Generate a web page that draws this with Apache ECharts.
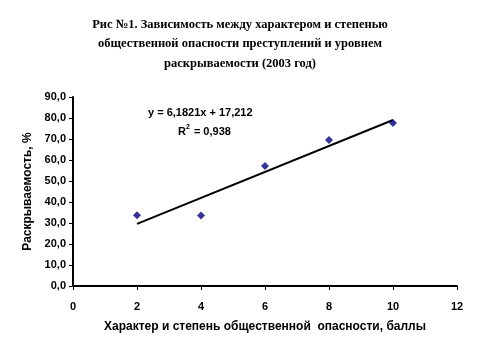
<!DOCTYPE html>
<html><head><meta charset="utf-8">
<script src="https://cdn.jsdelivr.net/npm/echarts@6/dist/echarts.min.js"></script>
<style>html,body{margin:0;padding:0;background:#fff}#c{width:480px;height:355px}</style>
</head><body><div id="c"></div>
<script>
var xValues = [2, 4, 6, 8, 10];
var yValues = [33.7, 33.6, 57.1, 69.5, 77.6];
var trendSlope = 6.1821;
var trendIntercept = 17.212;
var trendX = [2, 10];
var titleText = 'Рис №1. Зависимость между характером и степенью\nобщественной опасности преступлений и уровнем\nраскрываемости (2003 год)';

var points = xValues.map(function(x, i){ return [x, yValues[i]]; });
var trend = trendX.map(function(x){ return [x, trendSlope * x + trendIntercept]; });

var chart = echarts.init(document.getElementById('c'));
chart.setOption({
  backgroundColor: '#fff',
  animation: false,
  title: {
    text: titleText, left: 'center', top: 10,
    textStyle: {fontFamily: 'Liberation Serif', fontSize: 12.5, fontWeight: 'bold', color: '#000', lineHeight: 19.5}
  },
  grid: {left: 73, right: 23, top: 97, bottom: 69},
  xAxis: {
    type: 'value', min: 0, max: 12, interval: 2,
    name: 'Характер и степень общественной  опасности, баллы',
    nameLocation: 'middle', nameGap: 35,
    nameTextStyle: {fontFamily: 'Liberation Sans', fontSize: 12, fontWeight: 'bold', color: '#000'},
    axisLine: {lineStyle: {color: '#000', width: 2}},
    axisTick: {show: true, length: 4, lineStyle: {color: '#000', width: 1}},
    axisLabel: {fontFamily: 'Liberation Sans', fontSize: 11, fontWeight: 'bold', color: '#000', margin: 15},
    splitLine: {show: false}
  },
  yAxis: {
    type: 'value', min: 0, max: 90, interval: 10,
    name: 'Раскрываемость, %',
    nameLocation: 'middle', nameGap: 38, nameRotate: 90,
    nameTextStyle: {fontFamily: 'Liberation Sans', fontSize: 12, fontWeight: 'bold', color: '#000'},
    axisLine: {show: true, lineStyle: {color: '#000', width: 2}},
    axisTick: {show: true, length: 4, lineStyle: {color: '#000', width: 1}},
    axisLabel: {fontFamily: 'Liberation Sans', fontSize: 11, fontWeight: 'bold', color: '#000', margin: 7,
      formatter: function(v){ return v.toFixed(1).replace('.', ','); }},
    splitLine: {show: false}
  },
  series: [
    {
      type: 'line', data: trend, showSymbol: false, symbol: 'none',
      lineStyle: {color: '#000', width: 2}, z: 2
    },
    {
      type: 'scatter', data: points, symbol: 'diamond', symbolSize: 8,
      itemStyle: {color: '#000080'}, z: 3
    }
  ],
  graphic: [
    {type: 'text', left: 148, top: 107,
      style: {text: 'y = 6,1821x + 17,212', font: 'bold 11px "Liberation Sans"', fill: '#000'}},
    {type: 'text', left: 178, top: 124,
      style: {text: '{a|R}{s|2}{a| = 0,938}', font: 'bold 11px "Liberation Sans"', fill: '#000',
        rich: {a: {fontFamily: 'Liberation Sans', fontSize: 11, fontWeight: 'bold', color: '#000', verticalAlign: 'bottom'},
               s: {fontFamily: 'Liberation Sans', fontSize: 7, fontWeight: 'bold', color: '#000', verticalAlign: 'top', padding: [0,1,6,0]}}}}
  ]
});
</script></body></html>
